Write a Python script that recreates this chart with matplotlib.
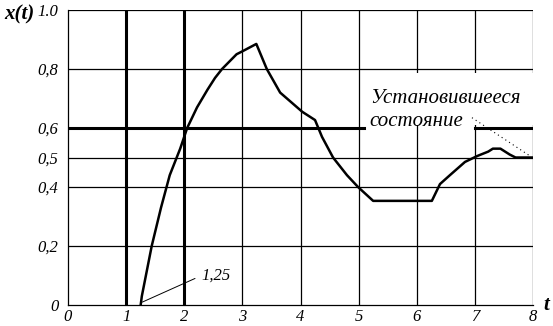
import matplotlib.pyplot as plt
from matplotlib.patches import Rectangle

# отклик системы x(t), точки
t = [1.25, 1.27, 1.44, 1.6, 1.75, 1.93, 2.05, 2.22, 2.4, 2.53, 2.65, 2.9, 3.0, 3.24,
     3.42, 3.65, 4.03, 4.25, 4.37, 4.56, 4.8, 4.99, 5.25, 6.26, 6.4, 6.57, 6.83,
     7.04, 7.23, 7.31, 7.44, 7.6, 7.7, 7.95, 8.0]
x = [0.0, 0.03, 0.2, 0.33, 0.44, 0.53, 0.6, 0.67, 0.73, 0.77, 0.8, 0.85, 0.86, 0.885,
     0.8, 0.72, 0.655, 0.627, 0.57, 0.5, 0.44, 0.4, 0.353, 0.353, 0.41, 0.44, 0.485,
     0.505, 0.52, 0.53, 0.53, 0.51, 0.5, 0.5, 0.5]

xticks = [0, 1, 2, 3, 4, 5, 6, 7, 8]
yticks = [0, 0.2, 0.4, 0.5, 0.6, 0.8, 1.0]
ylabels = ['0', '0,2', '0,4', '0,5', '0,6', '0,8', '1.0']
x_steady = 0.5
t_start = 1.25

serif = 'Liberation Serif'

fig = plt.figure(figsize=(5.53, 3.26), dpi=100)
ax = fig.add_axes([0.123, 0.0644, 0.8408, 0.9049])
ax.set_xlim(0, 8)
ax.set_ylim(0, 1.0)

# сетка
for v in xticks[1:]:
    lw = 2.2 if v in (1, 2) else 0.9
    ax.axvline(v, color='k', lw=lw, zorder=1)
for v in yticks[1:]:
    if v != 0.6:
        ax.axhline(v, color='k', lw=0.9, zorder=1)
# линия 0,6 прерывается под надписью
ax.plot([0, 5.1], [0.6, 0.6], color='k', lw=2.2, zorder=1)
ax.plot([7.0, 8.0], [0.6, 0.6], color='k', lw=2.2, zorder=1)

# белое поле под надписью
ax.add_patch(Rectangle((5.06, 0.61), 3.0, 0.175, facecolor='white', edgecolor='none',
                       zorder=2, clip_on=False))

ax.plot(t, x, color='k', lw=1.8, zorder=3)

for s in ['top', 'right']:
    ax.spines[s].set_visible(False)
for s in ['left', 'bottom']:
    ax.spines[s].set_linewidth(0.9)

ax.set_xticks(xticks)
ax.set_xticklabels([str(v) for v in xticks], fontfamily=serif, style='italic', fontsize=12)
ax.set_yticks(yticks)
ax.set_yticklabels(ylabels, fontfamily=serif, style='italic', fontsize=12)
ax.tick_params(axis='x', length=0, pad=3)
ax.tick_params(axis='y', length=0, pad=7)

ax.text(-0.105, 0.985, 'x(t)', transform=ax.transAxes, fontfamily=serif,
        style='italic', fontweight='bold', fontsize=15, ha='center', va='center')
ax.text(8.18, 0.0, 't', fontfamily=serif, style='italic', fontweight='bold',
        fontsize=15, ha='left', va='center', clip_on=False)

ax.annotate('1,25', xy=(t_start + 0.03, 0.01), xytext=(2.55, 0.1), fontfamily=serif,
            style='italic', fontsize=12, ha='center', va='center',
            arrowprops=dict(arrowstyle='-', color='k', lw=0.7, shrinkB=0, shrinkA=3,
                            relpos=(0, 0.5)))

ax.text(5.2, 0.685, 'Установившееся', fontfamily=serif, style='italic',
        fontsize=15, ha='left', va='baseline', zorder=4)
ax.text(5.19, 0.607, 'состояние', fontfamily=serif, style='italic',
        fontsize=15, ha='left', va='baseline', zorder=4)
ax.plot([6.95, 7.95], [0.635, x_steady + 0.005], color='k', lw=0.8,
        ls=(0, (1, 3)), zorder=5)

fig.savefig('out.png', dpi=100)
